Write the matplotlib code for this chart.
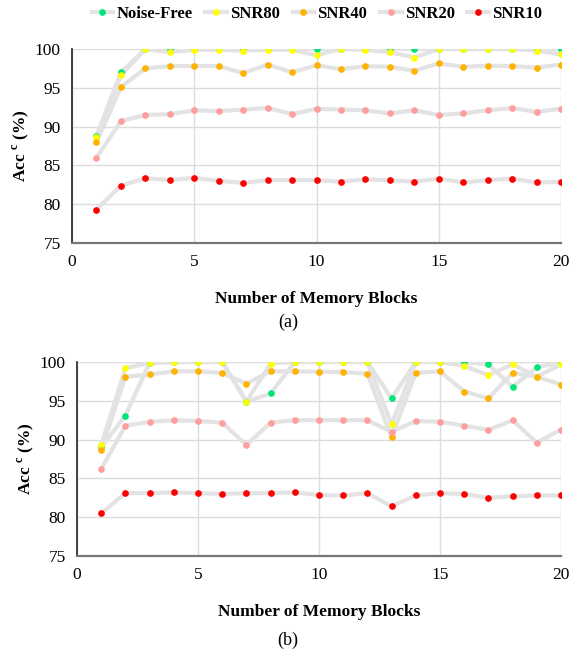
import numpy as np
import matplotlib
matplotlib.use("Agg")
import matplotlib.pyplot as plt
from matplotlib.lines import Line2D

plt.rcParams['font.family'] = ['Liberation Serif', 'DejaVu Serif']
plt.rcParams['mathtext.fontset'] = 'custom'
plt.rcParams['mathtext.rm'] = 'Liberation Serif'
plt.rcParams['mathtext.bf'] = 'Liberation Serif:bold'

blocks = list(range(1, 21))
series_names = ['Noise-Free', 'SNR80', 'SNR40', 'SNR20', 'SNR10']

# (a)
a_noise_free = [88.8, 97.0, 100, 100, 100, 100, 100, 100, 100, 100,
                100, 100, 100, 100, 100, 100, 100, 100, 100, 100]
a_snr80 = [88.6, 96.6, 100, 99.6, 99.9, 99.9, 99.8, 99.9, 99.9, 99.2,
           100, 99.9, 99.6, 98.9, 100, 100, 100, 100, 99.8, 99.3]
a_snr40 = [88.0, 95.1, 97.5, 97.8, 97.8, 97.8, 96.9, 98.0, 97.0, 97.9,
           97.4, 97.8, 97.7, 97.2, 98.15, 97.7, 97.85, 97.8, 97.6, 98.0]
a_snr20 = [86.0, 90.7, 91.5, 91.6, 92.1, 92.0, 92.2, 92.4, 91.6, 92.3,
           92.2, 92.1, 91.7, 92.1, 91.5, 91.7, 92.1, 92.4, 91.9, 92.3]
a_snr10 = [79.3, 82.4, 83.35, 83.1, 83.4, 83.0, 82.75, 83.1, 83.1, 83.1,
           82.9, 83.2, 83.1, 82.9, 83.3, 82.8, 83.1, 83.3, 82.8, 82.9]

# (b)
b_noise_free = [89.0, 93.1, 99.9, 100, 100, 100, 94.9, 95.95, 100, 100,
                100, 100, 95.3, 100, 100, 100, 99.7, 96.8, 99.3, 100]
b_snr80 = [89.3, 99.2, 99.9, 100, 100, 100, 94.9, 99.8, 100, 100,
           100, 100, 92.0, 100, 100, 99.5, 98.3, 99.7, 98.1, 99.7]
b_snr40 = [88.6, 98.1, 98.4, 98.8, 98.8, 98.6, 97.2, 98.8, 98.8, 98.75,
           98.7, 98.5, 90.3, 98.6, 98.8, 96.2, 95.3, 98.6, 98.1, 97.1]
b_snr20 = [86.2, 91.8, 92.3, 92.5, 92.4, 92.2, 89.3, 92.2, 92.5, 92.5,
           92.5, 92.5, 91.0, 92.4, 92.3, 91.8, 91.25, 92.5, 89.6, 91.3]
b_snr10 = [80.5, 83.1, 83.1, 83.2, 83.1, 83.0, 83.1, 83.1, 83.2, 82.85,
           82.8, 83.1, 81.4, 82.8, 83.1, 83.0, 82.5, 82.7, 82.8, 82.8]

colors = ['#00e676', '#ffff00', '#ffb300', '#ff9e9e', '#ff0000']
line_gray = '#e3e3e3'
line_w = 3.0
mark_s = 3.8

fig = plt.figure(figsize=(5.70, 6.58), dpi=100)
ax_a = fig.add_axes([0.1263, 0.6307, 0.858, 0.2948])
ax_b = fig.add_axes([0.1351, 0.155, 0.849, 0.2948])


def draw_panel(ax, data):
    for vals in data:
        ax.plot(blocks, vals, color=line_gray, lw=line_w, zorder=2,
                solid_capstyle='round', solid_joinstyle='round')
    for vals, c in zip(data, colors):
        ax.plot(blocks, vals, ls='none', marker='o', ms=mark_s,
                mfc=c, mec=c, zorder=3)
    ax.set_xlim(0, 20)
    ax.set_ylim(75, 100)
    ax.set_xticks([0, 5, 10, 15, 20])
    ax.set_yticks([75, 80, 85, 90, 95, 100])
    ax.grid(True, color='#dcdcdc', lw=1.0, zorder=0)
    ax.set_axisbelow(True)
    ax.tick_params(length=0, labelsize=12.5, pad=8)
    ax.spines['top'].set_visible(False)
    ax.spines['right'].set_visible(False)
    ax.spines['left'].set_color('#222222')
    ax.spines['left'].set_linewidth(1.2)
    ax.spines['bottom'].set_color('#777777')
    ax.spines['bottom'].set_linewidth(1.6)
    ax.set_xlabel('Number of Memory Blocks', fontsize=12.5, fontweight='bold', labelpad=15)
    ax.set_ylabel(r'Acc $^{\mathbf{c}}$ (%)', fontsize=12.5, fontweight='bold', labelpad=3)


draw_panel(ax_a, [a_noise_free, a_snr80, a_snr40, a_snr20, a_snr10])
draw_panel(ax_b, [b_noise_free, b_snr80, b_snr40, b_snr20, b_snr10])

fig.text(288 / 570, 1 - 322 / 658, '(a)', fontsize=13, ha='center', va='center')
fig.text(288 / 570, 1 - 640 / 658, '(b)', fontsize=13, ha='center', va='center')

handles = [Line2D([], [], color=line_gray, lw=line_w, marker='o', ms=mark_s, mfc=c, mec=c)
           for c in colors]
fig.legend(handles, series_names, loc='center', bbox_to_anchor=(317 / 570, 1 - 14 / 658),
           ncol=5, frameon=False, prop={'weight': 'bold', 'size': 12},
           handlelength=1.3, handletextpad=0.2, columnspacing=0.75,
           borderpad=0.1, borderaxespad=0)

fig.savefig('out.png', dpi=100)
